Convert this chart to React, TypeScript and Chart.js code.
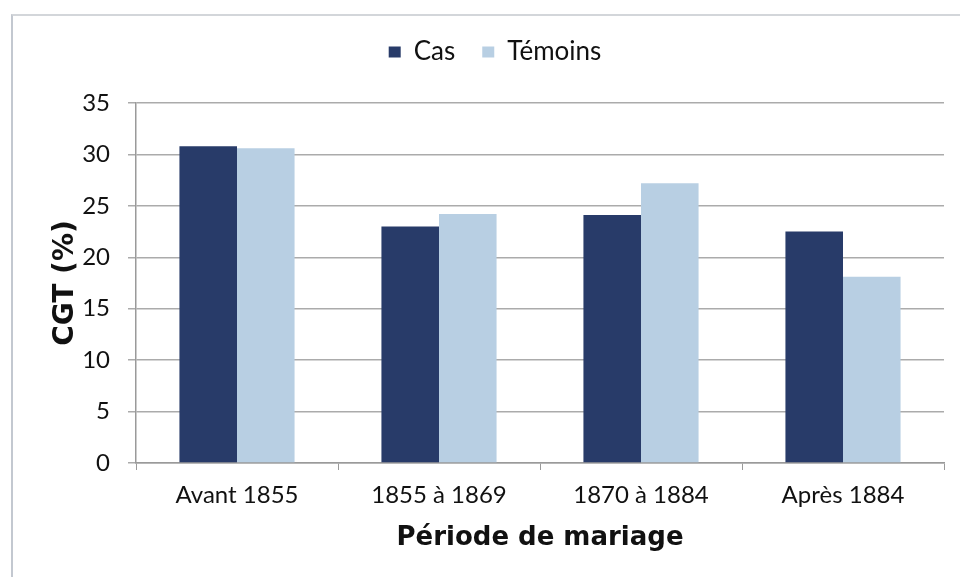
import React, { useEffect, useRef } from "react";
import { Chart, registerables } from "chart.js";

Chart.register(...registerables);

const categories = ["Avant 1855", "1855 à 1869", "1870 à 1884", "Après 1884"];
const casValues = [30.8, 23.0, 24.1, 22.5];
const temoinsValues = [30.6, 24.2, 27.2, 18.1];
const seriesNames = ["Cas", "Témoins"];
const xTitle = "Période de mariage";
const yTitle = "CGT (%)";

const CAS_COLOR = "#283b69";
const TEM_COLOR = "#b8cfe3";
const GRID = "#ababab";
const AXIS = "#9a9a9a";

const legendSpacer = {
  id: "legendSpacer",
  beforeLayout(chart: any) {
    const lg = chart.legend;
    if (lg && !lg._patched) {
      const origFit = lg.fit.bind(lg);
      lg.fit = function () {
        origFit();
        this.height += 28;
      };
      const origDraw = lg.draw.bind(lg);
      lg.draw = function () {
        const ctx = this.ctx;
        ctx.save();
        ctx.translate(17, 0);
        origDraw();
        ctx.restore();
      };
      lg._patched = true;
    }
  },
};

export default function App() {
  const ref = useRef<HTMLCanvasElement | null>(null);
  useEffect(() => {
    if (!ref.current) return;
    const chart = new Chart(ref.current, {
      type: "bar",
      data: {
        labels: categories,
        datasets: [
          {
            label: seriesNames[0],
            data: casValues,
            backgroundColor: CAS_COLOR,
            categoryPercentage: 0.57,
            barPercentage: 1.0,
          },
          {
            label: seriesNames[1],
            data: temoinsValues,
            backgroundColor: TEM_COLOR,
            categoryPercentage: 0.57,
            barPercentage: 1.0,
          },
        ],
      },
      options: {
        animation: false,
        responsive: false,
        maintainAspectRatio: false,
        layout: { padding: { left: 12, right: 16, top: 12, bottom: 0 } },
        plugins: {
          tooltip: { enabled: false },
          legend: {
            display: true,
            position: "top",
            labels: {
              boxWidth: 12,
              boxHeight: 11,
              padding: 27,
              color: "#111",
              font: { family: "Lato", size: 26 },
            },
          },
        },
        scales: {
          x: {
            grid: {
              display: true,
              drawOnChartArea: false,
              drawTicks: true,
              tickLength: 7,
              color: AXIS,
              offset: true,
            },
            border: { display: true, color: AXIS, width: 1.5 },
            ticks: {
              color: "#111",
              padding: 11,
              font: { family: "Lato", size: 24 },
              maxRotation: 0,
            },
            title: {
              display: true,
              text: xTitle,
              color: "#111",
              font: { family: "DejaVu Sans", size: 26, weight: "bold" },
              padding: { top: 0, bottom: 23 },
            },
            afterFit(scale: any) {
              scale.height = 114;
            },
          },
          y: {
            min: 0,
            max: 35,
            ticks: {
              stepSize: 5,
              color: "#111",
              padding: 18,
              font: { family: "Lato", size: 24 },
            },
            grid: {
              color: GRID,
              lineWidth: 1.5,
              drawTicks: true,
              tickLength: 8,
            },
            border: { display: true, color: AXIS, width: 1.5 },
            title: {
              display: true,
              text: yTitle,
              color: "#111",
              font: { family: "DejaVu Sans", size: 28, weight: "bold" },
              padding: { top: 37, bottom: 0 },
            },
            afterFit(scale: any) {
              scale.width = 124;
            },
          },
        },
      },
      plugins: [legendSpacer],
    });
    return () => chart.destroy();
  }, []);

  return (
    <div
      style={{
        position: "fixed",
        left: 0,
        top: 0,
        width: 960,
        height: 577,
        background: "#fff",
        overflow: "hidden",
      }}
    >
      <canvas ref={ref} width={960} height={577} style={{ position: "absolute", left: 0, top: 0 }} />
      <div
        style={{
          position: "absolute",
          left: 11,
          top: 14,
          width: 980,
          height: 600,
          borderLeft: "2px solid #c3c8d0",
          borderTop: "2px solid #d3d6da",
          pointerEvents: "none",
        }}
      />
    </div>
  );
}
